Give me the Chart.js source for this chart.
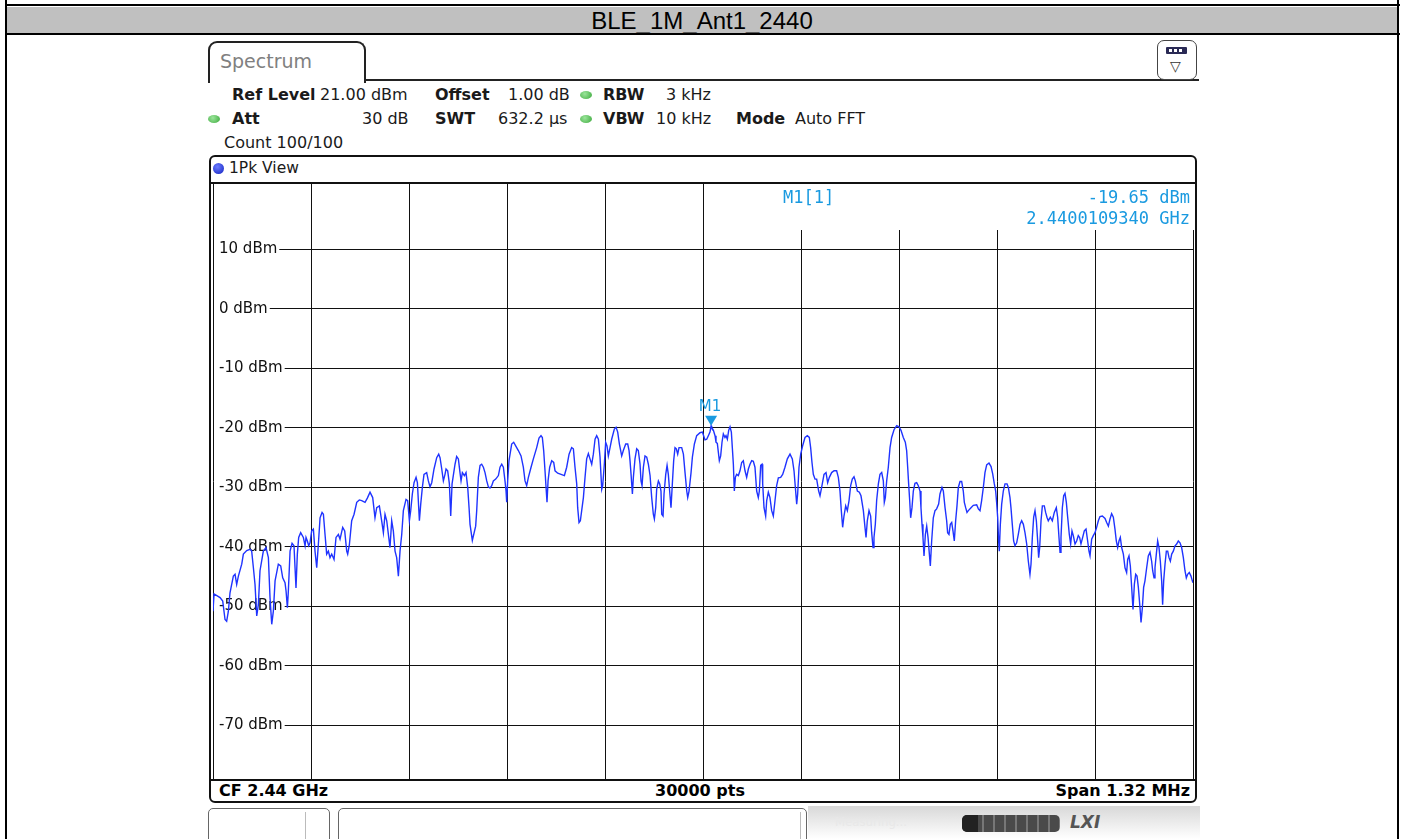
<!DOCTYPE html>
<html>
<head>
<meta charset="utf-8">
<script src="https://cdn.jsdelivr.net/npm/chart.js@4.4.1/dist/chart.umd.min.js"></script>
<style>
  html, body { margin: 0; padding: 0; }
  body { width: 1405px; height: 839px; overflow: hidden; background: #fff; position: relative;
         font-family: "DejaVu Sans", sans-serif; color: #000; }
  .abs { position: absolute; }
  #chart { position: absolute; left: 0; top: 0; z-index: 1; }
  .over { z-index: 2; pointer-events: none; }
  .title { left: 7px; top: 7px; width: 1390px; height: 26px; background: #c0c0c0;
           font-family: "Liberation Sans", Arial, sans-serif; font-size: 24px; line-height: 27px; text-align: center; }
  .info { font-size: 16px; line-height: 18px; white-space: nowrap; color: #1a1a1a; }
  .info b { font-weight: bold; }
  .dot { width: 12px; height: 8px; border-radius: 50%; background: radial-gradient(circle at 40% 35%, #9be59b, #3aa83a); }
  .foot { font-size: 16px; font-weight: bold; line-height: 18px; white-space: nowrap; }
  .mk { font-family: "DejaVu Sans Mono", monospace; font-size: 17px; color: #1a9ae0; line-height: 20px; white-space: nowrap; }
</style>
</head>
<body>
<!-- report table frame -->
<div class="abs" style="left:5px;top:4px;width:1395px;height:2px;background:#000"></div>
<div class="abs" style="left:5px;top:0;width:2px;height:839px;background:#000"></div>
<div class="abs" style="left:1397px;top:0;width:2px;height:839px;background:#000"></div>
<div class="abs title">BLE_1M_Ant1_2440</div>
<div class="abs" style="left:5px;top:33px;width:1395px;height:2px;background:#000"></div>

<!-- analyser header -->
<div class="abs" style="left:208px;top:41px;width:154px;height:40px;border:2px solid #222;border-bottom:none;border-radius:9px 9px 0 0;"></div>
<div class="abs" style="left:220px;top:50px;font-size:19px;color:#808080;">Spectrum</div>
<div class="abs" style="left:364px;top:79px;width:835px;height:2px;background:#222"></div>
<div class="abs" style="left:1157px;top:40px;width:38px;height:38px;border:1.5px solid #444;border-radius:7px;"></div>
<div class="abs" style="left:1166px;top:47px;width:21px;height:7px;background:#2a2a55;border-radius:1px;"></div>
<div class="abs" style="left:1169px;top:49px;width:3px;height:3px;background:#fff"></div>
<div class="abs" style="left:1174px;top:49px;width:3px;height:3px;background:#fff"></div>
<div class="abs" style="left:1179px;top:49px;width:3px;height:3px;background:#fff"></div>
<div class="abs" style="left:1170px;top:58px;font-size:14px;color:#333;">&#9661;</div>

<div class="abs info" style="left:232px;top:86px"><b>Ref Level</b></div>
<div class="abs info" style="left:320px;top:86px">21.00 dBm</div>
<div class="abs info" style="left:435px;top:86px"><b>Offset</b></div>
<div class="abs info" style="left:508px;top:86px">1.00 dB</div>
<div class="abs dot" style="left:580px;top:91px"></div>
<div class="abs info" style="left:603px;top:86px"><b>RBW</b></div>
<div class="abs info" style="left:666px;top:86px">3 kHz</div>

<div class="abs dot" style="left:208px;top:115px"></div>
<div class="abs info" style="left:232px;top:110px"><b>Att</b></div>
<div class="abs info" style="left:362px;top:110px">30 dB</div>
<div class="abs info" style="left:435px;top:110px"><b>SWT</b></div>
<div class="abs info" style="left:498px;top:110px">632.2 µs</div>
<div class="abs dot" style="left:580px;top:115px"></div>
<div class="abs info" style="left:603px;top:110px"><b>VBW</b></div>
<div class="abs info" style="left:656px;top:110px">10 kHz</div>
<div class="abs info" style="left:736px;top:110px"><b>Mode</b></div>
<div class="abs info" style="left:795px;top:110px">Auto FFT</div>
<div class="abs info" style="left:224px;top:134px">Count 100/100</div>

<!-- diagram frame -->
<div class="abs over" style="left:209px;top:155px;width:984px;height:644px;border:2px solid #111;border-radius:6px;"></div>
<div class="abs over" style="left:211px;top:182px;width:984px;height:2px;background:#111"></div>
<div class="abs" style="left:213px;top:163px;width:11px;height:11px;border-radius:50%;background:radial-gradient(circle at 40% 35%, #6d7dff, #1020c0);"></div>
<div class="abs info" style="left:229px;top:159px;font-size:15.5px">1Pk View</div>
<div class="abs over" style="left:211px;top:779px;width:984px;height:2px;background:#111"></div>
<div class="abs foot" style="left:219px;top:782px">CF 2.44 GHz</div>
<div class="abs foot" style="left:600px;top:782px;width:200px;text-align:center">30000 pts</div>
<div class="abs foot" style="left:990px;top:782px;width:200px;text-align:right">Span 1.32 MHz</div>

<!-- marker readout -->
<div class="abs mk over" style="left:783px;top:187px">M1[1]</div>
<div class="abs mk over" style="left:990px;top:187px;width:200px;text-align:right">-19.65 dBm</div>
<div class="abs mk over" style="left:940px;top:208px;width:250px;text-align:right">2.4400109340 GHz</div>

<!-- status bar -->
<div class="abs" style="left:208px;top:808px;width:120px;height:34px;border:1px solid #666;border-radius:5px;"></div>
<div class="abs" style="left:305px;top:812px;width:1px;height:27px;background:#bbb"></div>
<div class="abs" style="left:338px;top:808px;width:467px;height:34px;border:1px solid #666;border-radius:5px;"></div>
<div class="abs" style="left:800px;top:812px;width:1px;height:27px;background:#bbb"></div>
<div class="abs" style="left:808px;top:806px;width:392px;height:33px;background:linear-gradient(#d8d8d8,#ffffff);"></div>
<div class="abs" style="left:835px;top:814px;font-size:13px;color:#e8e8e8;font-family:'DejaVu Sans Condensed','DejaVu Sans',sans-serif;">Measuring...</div>
<div class="abs" style="left:962px;top:815px;width:98px;height:17px;border-radius:5px;background:repeating-linear-gradient(90deg,#4a4a4a 0 9px,#777 9px 11px);"></div>
<div class="abs" style="left:962px;top:815px;width:16px;height:17px;border-radius:5px 0 0 5px;background:#222;"></div>
<div class="abs" style="left:1070px;top:812px;font-size:17px;font-weight:bold;font-style:italic;color:#555;">LXI</div>

<canvas id="chart" width="1405" height="839"></canvas>

<script>
// Trace: frequency offset from centre (kHz) and level (dBm)
const freqKHz = [
  -660.0,-658.6,-650.5,-646.9,-643.8,-641.6,-639.3,-637.1,-632.6,-630.3,-628.1,-625.8,-621.3,-619.1,-614.6,-610.1,
  -607.9,-605.6,-603.4,-601.1,-598.9,-596.7,-592.2,-588.6,-585.4,-583.2,-580.9,-578.7,-576.4,-572.0,-568.8,-566.1,
  -563.0,-561.6,-559.8,-558.5,-556.2,-553.5,-550.9,-549.5,-548.2,-546.4,-544.6,-541.9,-538.3,-536.0,-534.7,-532.9,
  -531.1,-529.3,-527.1,-524.8,-522.6,-520.3,-518.1,-515.8,-513.1,-511.3,-509.1,-506.9,-504.6,-502.4,-500.1,-497.0,
  -494.3,-491.1,-488.9,-485.3,-482.6,-479.9,-478.6,-476.3,-473.2,-470.0,-466.4,-462.9,-459.7,-455.2,-452.1,-448.5,
  -444.9,-441.8,-439.5,-435.9,-432.8,-430.5,-428.3,-426.0,-421.6,-419.3,-417.1,-414.8,-412.6,-410.3,-408.1,-405.8,
  -403.6,-400.0,-397.8,-395.5,-393.7,-391.5,-389.2,-386.5,-384.7,-382.0,-380.2,-378.0,-375.8,-372.2,-369.9,-367.7,
  -365.4,-362.3,-358.7,-356.0,-354.2,-351.9,-349.7,-347.5,-346.1,-343.9,-341.6,-339.8,-338.0,-334.0,
  -331.8,-329.5,-327.3,-325.9,-324.1,-321.4,-319.2,-316.9,-315.1,-313.8,-310.7,-306.2,-304.8,-302.6,-300.3,-298.1,
  -295.8,-293.6,-291.3,-289.1,-286.9,-284.6,-282.4,-279.2,-275.6,-273.4,-271.1,-268.9,-266.7,-265.3,-264.4,-263.1,
  -261.3,-257.7,-255.0,-252.3,-248.7,-245.1,-242.0,-239.7,-237.5,-235.2,-231.6,-228.5,-224.0,-220.9,-218.2,-216.4,
  -214.6,-212.8,-211.4,-210.1,-208.7,-206.5,-203.8,-201.1,-199.3,-195.7,-191.2,-186.7,-183.6,-180.4,-176.9,-174.6,
  -172.4,-170.1,-168.8,-167.0,-165.2,-163.4,-161.1,-158.9,-156.7,-154.4,-152.2,-149.9,-147.7,-145.4,-143.2,-140.9,
  -138.7,-136.4,-135.1,-132.9,-131.1,-129.3,-127.5,-125.2,-123.0,-119.4,-117.1,-114.9,-112.6,-109.5,-107.3,-104.1,
  -101.4,-99.6,-98.3,-96.9,-95.1,-93.8,-91.6,-89.3,-87.1,-84.8,-83.5,-82.1,-80.3,-78.1,-75.8,-73.6,
  -71.3,-69.1,-66.9,-65.5,-63.7,-62.4,-60.1,-58.3,-56.6,-55.6,-53.8,-52.5,-50.2,-48.4,-46.7,-44.4,
  -43.1,-41.3,-39.5,-37.7,-35.9,-34.1,-32.3,-28.7,-26.4,-24.2,-21.9,-20.6,-18.8,-16.1,-14.3,-11.6,
  -8.5,-4.0,-0.8,2.7,5.0,7.2,9.4,10.93,11.7,14.0,16.2,17.5,19.3,20.7,22.0,23.8,
  25.6,27.4,29.6,31.0,32.8,34.6,36.4,38.2,39.5,40.9,42.2,43.6,45.3,47.6,49.8,52.1,
  54.3,56.6,58.8,61.1,63.3,65.6,67.8,70.0,72.3,74.5,75.9,77.7,79.5,80.4,82.2,84.4,
  85.8,88.0,90.2,92.5,94.7,97.0,99.2,101.5,104.6,107.3,110.4,113.6,117.2,120.3,122.6,124.4,
  126.2,127.5,129.3,131.6,134.2,137.4,140.5,143.2,145.0,146.8,148.6,150.9,153.1,155.8,157.6,159.8,
  163.0,165.7,167.9,170.2,173.3,176.5,180.0,182.3,184.5,186.3,188.1,189.9,192.2,194.4,196.7,198.9,
  201.1,203.4,205.2,207.9,210.6,212.8,216.0,218.2,219.6,221.3,223.6,225.8,227.2,229.0,230.3,232.1,
  233.9,236.2,238.4,240.7,242.9,244.2,245.6,247.4,249.6,251.9,254.1,257.3,260.9,264.0,266.7,269.8,
  272.5,274.3,275.7,277.0,278.4,279.7,281.5,283.3,285.5,287.8,290.0,292.3,293.6,295.0,296.3,297.7,
  299.5,301.3,303.1,304.9,306.2,308.0,310.2,312.5,314.7,317.4,319.2,321.9,323.7,326.0,
  328.2,329.5,331.3,333.1,335.0,336.7,338.5,340.3,342.1,343.9,346.2,348.4,350.6,352.0,353.8,355.6,
  357.4,361.0,364.1,368.6,370.9,373.1,375.3,377.6,379.8,382.1,385.2,388.0,390.2,392.4,394.2,395.5,
  396.9,398.2,399.1,400.5,402.3,404.5,406.8,409.5,411.3,413.5,414.8,416.6,418.4,420.2,422.5,424.7,
  427.0,429.2,431.5,433.7,436.0,438.2,440.4,441.8,443.6,445.4,447.2,449.0,450.8,452.1,453.5,455.3,
  457.1,459.7,461.5,463.3,465.1,467.8,470.5,473.2,475.9,477.7,479.5,480.9,482.2,484.0,485.8,487.6,
  489.4,491.2,493.4,495.2,497.0,498.8,501.1,503.3,505.5,507.3,509.1,511.4,513.6,515.9,518.1,519.9,
  521.3,523.5,525.7,528.0,530.2,532.5,534.7,537.9,541.5,543.7,546.0,548.2,550.4,552.7,554.9,556.7,
  558.5,560.3,562.1,563.9,566.2,568.4,570.6,572.0,573.8,575.6,577.4,579.2,581.0,582.8,584.6,586.4,
  588.6,590.0,591.8,593.5,595.3,597.6,599.8,602.1,604.3,605.7,607.5,608.8,610.6,612.4,614.2,616.0,
  617.8,619.1,620.5,622.3,624.1,625.9,627.7,629.5,631.3,633.5,635.8,638.0,640.2,642.5,644.7,647.0,
  649.2,651.0,652.8,655.0,657.3,659.1,660.0
];
const levelDbm = [
  -50.8,-47.9,-48.5,-49.1,-52.2,-52.5,-50.8,-47.7,-44.9,-44.6,-46.3,-44.9,-42.9,-41.2,-40.6,-40.4,
  -40.7,-43.5,-46.3,-51.6,-49.7,-44.0,-40.7,-40.1,-41.8,-48.5,-53.0,-50.8,-45.7,-42.9,-43.2,-45.2,
  -46.0,-47.4,-50.2,-47.4,-40.7,-39.4,-39.8,-43.5,-46.9,-41.2,-38.4,-37.6,-38.4,-39.8,-38.4,-39.0,
  -39.8,-39.3,-37.3,-37.0,-40.7,-43.5,-39.6,-35.1,-34.2,-34.5,-37.9,-41.2,-40.7,-41.8,-41.2,-42.1,
  -38.4,-37.9,-38.7,-36.7,-37.3,-40.7,-41.2,-39.6,-35.6,-34.5,-32.5,-32.1,-32.2,-32.5,-31.8,-30.8,
  -31.7,-35.1,-33.4,-33.1,-35.6,-37.6,-34.5,-35.6,-40.1,-35.6,-37.3,-40.7,-41.8,-44.9,-40.7,-37.9,
  -33.9,-32.0,-32.2,-35.6,-33.9,-31.1,-29.2,-28.3,-29.2,-35.6,-32.8,-30.0,-27.8,-27.5,-28.9,-29.9,
  -29.2,-26.9,-25.0,-24.4,-25.0,-26.9,-28.9,-27.8,-26.9,-27.2,-29.4,-34.8,-29.4,-26.1,
  -24.8,-25.2,-27.5,-28.9,-27.5,-28.0,-27.5,-30.0,-33.4,-36.2,-38.9,-36.5,-33.9,-28.3,-26.3,-26.1,
  -26.6,-27.5,-28.9,-29.9,-30.1,-29.7,-28.9,-28.6,-28.0,-26.6,-26.1,-26.6,-28.9,-30.6,-32.5,-28.9,
  -25.5,-22.7,-22.4,-23.0,-23.8,-24.7,-26.6,-28.9,-29.7,-28.3,-26.6,-25.2,-23.3,-21.7,-21.3,-21.6,
  -23.8,-27.2,-30.0,-32.5,-28.9,-26.6,-25.5,-25.8,-27.2,-27.6,-27.8,-28.0,-26.6,-24.4,-23.3,-23.5,
  -26.6,-29.4,-33.4,-35.9,-35.6,-33.9,-31.7,-28.3,-25.2,-24.3,-25.2,-26.1,-24.4,-21.9,-21.3,-21.9,
  -24.9,-30.3,-29.7,-26.1,-22.4,-23.0,-24.7,-23.3,-21.9,-20.2,-19.9,-20.7,-22.7,-24.7,-23.8,-22.7,
  -22.7,-23.8,-25.5,-27.8,-31.1,-28.3,-25.2,-23.5,-23.8,-26.1,-28.9,-29.7,-26.6,-24.7,-24.9,-26.1,
  -28.0,-31.7,-34.5,-35.3,-33.4,-30.3,-28.9,-29.4,-30.6,-34.5,-34.8,-31.1,-27.8,-26.3,-27.8,-31.4,
  -33.4,-29.4,-25.5,-23.3,-23.5,-24.4,-23.3,-23.3,-24.4,-27.5,-30.6,-31.7,-30.6,-27.5,-24.9,-22.7,
  -21.3,-20.8,-20.7,-22.0,-21.9,-21.3,-20.7,-19.65,-19.9,-20.4,-21.3,-22.4,-22.6,-24.1,-25.5,-24.7,
  -22.4,-21.0,-21.6,-21.3,-21.9,-20.4,-19.8,-20.7,-23.3,-26.1,-30.6,-28.3,-27.8,-28.0,-27.2,-25.8,
  -25.5,-27.2,-28.3,-26.9,-26.1,-25.5,-25.6,-26.6,-30.6,-31.7,-30.6,-26.3,-26.1,-29.4,-33.4,-34.8,
  -32.2,-30.8,-31.7,-33.9,-34.8,-32.2,-29.7,-28.4,-28.3,-27.8,-26.6,-25.2,-24.4,-25.2,-27.2,-30.0,
  -32.8,-31.1,-26.6,-24.4,-23.0,-21.6,-21.3,-21.6,-23.3,-25.8,-27.8,-28.6,-28.6,-30.6,-31.4,-30.0,
  -27.8,-27.5,-29.2,-28.3,-27.5,-27.2,-27.2,-28.3,-30.6,-33.9,-36.7,-34.8,-33.1,-33.9,-32.2,-29.7,
  -28.6,-28.2,-28.9,-30.6,-30.8,-31.4,-33.9,-36.7,-38.4,-35.6,-33.9,-34.8,-37.6,-40.1,-38.4,-36.2,
  -32.2,-29.4,-27.8,-27.5,-28.9,-32.5,-31.7,-28.9,-26.6,-23.3,-21.6,-20.3,-19.6,-19.8,-20.4,-21.6,
  -22.4,-23.8,-26.6,-29.4,-32.2,-35.1,-33.4,-30.6,-29.3,-29.2,-29.7,-30.6,-33.4,-36.2,-38.4,-41.5,
  -37.9,-36.5,-38.4,-41.2,-43.2,-39.0,-35.1,-33.9,-33.6,-32.8,-31.1,-30.0,-30.6,-33.4,
  -35.6,-37.6,-37.9,-36.2,-35.9,-37.3,-39.0,-35.6,-33.1,-30.0,-29.0,-29.0,-30.6,-32.5,-33.4,-34.2,
  -33.9,-33.4,-33.0,-32.9,-33.6,-33.9,-32.2,-30.0,-27.5,-26.2,-25.9,-26.5,-27.7,-29.4,-30.6,-32.5,
  -35.0,-39.0,-40.7,-36.2,-32.8,-30.6,-29.4,-29.4,-30.0,-31.7,-33.4,-36.2,-39.0,-39.8,-39.3,-37.9,
  -36.2,-35.6,-36.2,-37.6,-39.5,-42.4,-44.6,-42.9,-38.4,-35.0,-33.9,-35.6,-39.0,-41.8,-40.1,-35.6,
  -33.1,-33.1,-34.2,-35.0,-35.6,-35.0,-35.6,-34.2,-33.4,-35.0,-38.4,-40.9,-38.4,-33.4,-31.4,-31.0,
  -32.5,-35.0,-37.9,-39.5,-37.3,-38.1,-39.5,-39.0,-38.1,-38.4,-39.5,-38.4,-37.3,-37.0,-39.0,-40.7,
  -41.5,-38.7,-38.1,-37.6,-36.7,-35.6,-34.9,-34.8,-35.2,-35.9,-36.5,-35.3,-34.4,-35.0,-37.0,-39.0,
  -40.1,-39.0,-38.4,-40.1,-41.2,-43.5,-44.3,-42.1,-41.5,-43.2,-46.8,-50.5,-46.3,-44.6,-44.9,-46.8,
  -50.2,-52.7,-50.2,-46.8,-45.7,-43.5,-41.5,-40.9,-42.4,-44.0,-45.2,-43.5,-41.2,-39.0,-40.1,-42.4,
  -45.7,-49.7,-45.7,-42.9,-40.7,-40.7,-41.8,-42.4,-41.2,-40.7,-39.8,-39.5,-39.0,-39.3,-40.1,-41.8,
  -44.0,-45.2,-44.6,-44.3,-44.9,-45.7,-46.0
];

// Axis layout
const spanKHz = [-660, 660];
const levelRange = [-79, 21];
const yTicksDbm = [10, 0, -10, -20, -30, -40, -50, -60, -70];
const xGridKHz = [-660, -528, -396, -264, -132, 0, 132, 264, 396, 528, 660];

// Marker M1
const markerName = 'M1';
const markerKHz = 10.93;
const markerDbm = -19.65;

const BLUE_TRACE = '#1f33ff';
const MARKER_BLUE = '#1a9ae0';

const readoutPlugin = {
  id: 'readout',
  beforeDatasetsDraw(chart) {
    const { ctx, chartArea } = chart;
    ctx.save();
    // clear space for the marker readout in the upper right of the diagram
    ctx.fillStyle = '#fff';
    ctx.fillRect(781, chartArea.top - 1, chartArea.right - 781 + 1, 231 - chartArea.top);
    ctx.restore();
  },
  afterDatasetsDraw(chart) {
    const { ctx, scales } = chart;
    const px = scales.x.getPixelForValue(markerKHz);
    const py = scales.y.getPixelForValue(markerDbm);
    ctx.save();
    ctx.fillStyle = MARKER_BLUE;
    ctx.beginPath();
    ctx.moveTo(px, py);
    ctx.lineTo(px - 6, py - 10);
    ctx.lineTo(px + 6, py - 10);
    ctx.closePath();
    ctx.fill();
    ctx.font = '15px "DejaVu Sans", sans-serif';
    ctx.textAlign = 'center';
    ctx.textBaseline = 'alphabetic';
    ctx.fillText(markerName, px - 1, py - 15);
    ctx.restore();
  }
};

new Chart(document.getElementById('chart'), {
  type: 'line',
  data: {
    datasets: [{
      data: freqKHz.map((f, i) => ({ x: f, y: levelDbm[i] })),
      borderColor: BLUE_TRACE,
      borderWidth: 1.4,
      pointRadius: 0,
      tension: 0,
      fill: false
    }]
  },
  options: {
    responsive: false,
    animation: false,
    events: [],
    layout: { padding: { left: 213, right: 212, top: 184, bottom: 60 } },
    plugins: { legend: { display: false }, tooltip: { enabled: false } },
    scales: {
      x: {
        type: 'linear',
        min: spanKHz[0], max: spanKHz[1],
        afterBuildTicks: s => { s.ticks = xGridKHz.map(v => ({ value: v })); },
        afterFit: s => { s.height = 0; },
        ticks: { display: false },
        grid: { color: '#111', lineWidth: 1, drawTicks: false },
        border: { display: false }
      },
      y: {
        type: 'linear',
        min: levelRange[0], max: levelRange[1],
        afterBuildTicks: s => { s.ticks = yTicksDbm.map(v => ({ value: v })); },
        afterFit: s => { s.width = 0; },
        ticks: {
          mirror: true,
          padding: 6,
          color: '#111',
          font: { family: '"DejaVu Sans", sans-serif', size: 15 },
          callback: v => v + ' dBm',
          showLabelBackdrop: true,
          backdropColor: '#fff',
          backdropPadding: { left: 5, right: 2, top: 0, bottom: 0 }
        },
        grid: { color: '#111', lineWidth: 1, drawTicks: false },
        border: { display: false }
      }
    }
  },
  plugins: [readoutPlugin]
});
</script>
</body>
</html>
